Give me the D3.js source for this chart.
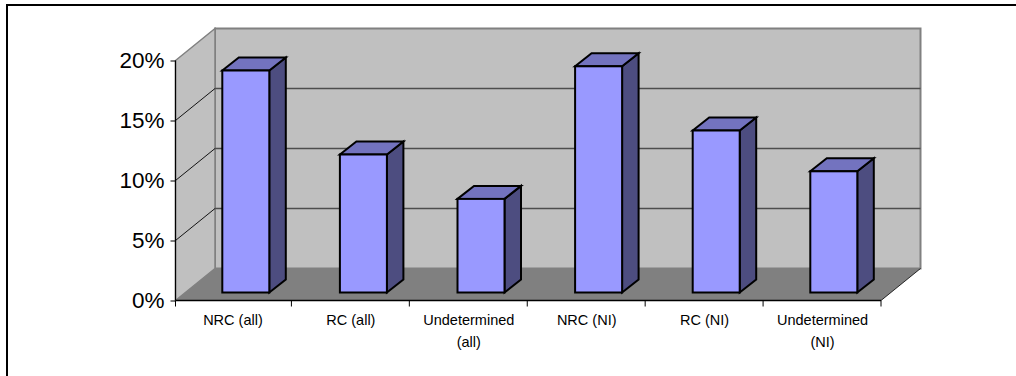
<!DOCTYPE html>
<html>
<head>
<meta charset="utf-8">
<script src="https://cdnjs.cloudflare.com/ajax/libs/d3/7.8.5/d3.min.js"></script>
<style>
html,body{margin:0;padding:0;background:#fff;}
svg{display:block;}
text{font-family:"Liberation Sans",Arial,sans-serif;fill:#000;}
</style>
</head>
<body>
<svg id="chart" width="1016" height="376"></svg>
<script>
// Share of cases per category, in percent
const categories = [["NRC (all)"],["RC (all)"],["Undetermined","(all)"],["NRC (NI)"],["RC (NI)"],["Undetermined","(NI)"]];
const values = [18.5, 11.5, 7.8, 18.85, 13.5, 10.1];
const yTicks = [0, 5, 10, 15, 20];

const svg = d3.select("#chart");

// Front plane of the 3-D box and the oblique offset to its back plane
const left = 175.5, right = 881, bottom = 300.5, top20 = 60.5;
const depthX = 39.5, depthY = -32;
const barDepthX = 16.5, barDepthY = -13;
const barShiftX = 12, barShiftY = -8;

// The category bands start slightly left of the value axis
const x = d3.scaleBand().domain(d3.range(categories.length)).range([173.5, right]);
// Bars sit on a plane further back, with their own slightly narrower spacing
const xBar = d3.scaleBand().domain(d3.range(categories.length)).range([175, 880.6]);
const y = d3.scaleLinear().domain([0, 20]).range([bottom, top20]);
const barWidth = 47;

const pts = a => a.map(p => p.join(",")).join(" ");

// Frame lines along the top and left edges
svg.append("path").attr("d", "M7,376V5H1016").attr("fill", "none").attr("stroke", "#000").attr("stroke-width", 2);

// Back wall
svg.append("rect")
  .attr("x", left + depthX).attr("y", y(20) + depthY)
  .attr("width", right - left).attr("height", y(0) - y(20))
  .attr("fill", "#c0c0c0").attr("stroke", "#808080").attr("stroke-width", 2);

// Side wall
svg.append("polygon")
  .attr("points", pts([[left, y(0)], [left, y(20)], [left + depthX, y(20) + depthY], [left + depthX, y(0) + depthY]]))
  .attr("fill", "#c0c0c0").attr("stroke", "#808080").attr("stroke-width", 1.5);

// Floor
svg.append("polygon")
  .attr("points", pts([[left, y(0)], [right, y(0)], [right + depthX, y(0) + depthY], [left + depthX, y(0) + depthY]]))
  .attr("fill", "#808080");
svg.append("line")
  .attr("x1", right).attr("y1", y(0)).attr("x2", right + depthX).attr("y2", y(0) + depthY)
  .attr("stroke", "#000").attr("stroke-width", 0.8);

// Gridlines: thin across the side wall, heavier across the back wall
const gridValues = yTicks.filter(t => t > 0 && t < 20);
svg.append("g").selectAll("line").data(gridValues).join("line")
  .attr("x1", left).attr("y1", t => y(t))
  .attr("x2", left + depthX).attr("y2", t => y(t) + depthY)
  .attr("stroke", "#000").attr("stroke-width", 0.9);
svg.append("g").selectAll("line").data(gridValues).join("line")
  .attr("x1", left + depthX).attr("y1", t => y(t) + depthY)
  .attr("x2", right + depthX).attr("y2", t => y(t) + depthY)
  .attr("stroke", "#4d4d4d").attr("stroke-width", 1.5);

// Value axis
const yAxis = svg.append("g").attr("transform", `translate(${left},0)`)
  .call(d3.axisLeft(y).tickValues(yTicks).tickSize(5).tickPadding(6).tickFormat(d => d + "%"));
yAxis.select(".domain").attr("stroke", "#000").attr("stroke-width", 1.2).attr("d", `M0,${y(20)}V${y(0)}`);
yAxis.selectAll("line").attr("stroke", "#000");
yAxis.selectAll("text").attr("font-size", 22.5).attr("font-family", '"Liberation Sans",Arial,sans-serif');

// Category axis
const xAxis = svg.append("g");
xAxis.append("line").attr("x1", left).attr("x2", right).attr("y1", y(0)).attr("y2", y(0)).attr("stroke", "#000").attr("stroke-width", 1.3);
const tickX = d3.range(categories.length + 1).map(i => i === 0 ? left : i < categories.length ? x(i) : right);
xAxis.selectAll(".tick").data(tickX).join("line")
  .attr("class", "tick")
  .attr("x1", d => d).attr("x2", d => d)
  .attr("y1", y(0)).attr("y2", y(0) + 6).attr("stroke", "#000");
const labels = xAxis.selectAll("text.cat").data(categories).join("text")
  .attr("class", "cat")
  .attr("text-anchor", "middle")
  .attr("font-size", 14.5)
  .attr("fill", "#1a1a1a");
labels.selectAll("tspan").data((d, i) => d.map(s => ({ s, i }))).join("tspan")
  .attr("x", d => x(d.i) + x.bandwidth() / 2 + 0.5)
  .attr("y", (d, j) => 325 + j * 22)
  .text(d => d.s);

// Bars: front, top and side faces
const bars = svg.append("g").selectAll("g").data(values).join("g")
  .attr("stroke", "#000").attr("stroke-width", 2).attr("stroke-linejoin", "miter");
const bx = i => xBar(i) + (xBar.bandwidth() - barWidth) / 2 + barShiftX;
const by = v => y(v) + barShiftY;
const base = y(0) + barShiftY;

bars.append("polygon").attr("fill", "#4d4d80")
  .attr("points", (v, i) => pts([[bx(i) + barWidth, by(v)], [bx(i) + barWidth + barDepthX, by(v) + barDepthY],
    [bx(i) + barWidth + barDepthX, base + barDepthY], [bx(i) + barWidth, base]]));
bars.append("polygon").attr("fill", "#7373bf")
  .attr("points", (v, i) => pts([[bx(i), by(v)], [bx(i) + barDepthX, by(v) + barDepthY],
    [bx(i) + barWidth + barDepthX, by(v) + barDepthY], [bx(i) + barWidth, by(v)]]));
bars.append("rect").attr("fill", "#9999ff")
  .attr("x", (v, i) => bx(i)).attr("y", v => by(v))
  .attr("width", barWidth).attr("height", v => base - by(v));
</script>
</body>
</html>
